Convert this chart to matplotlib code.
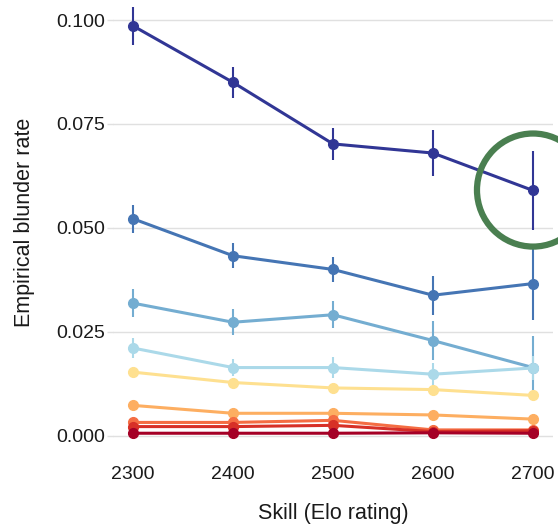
import matplotlib
matplotlib.use("Agg")
import matplotlib.pyplot as plt
from matplotlib.patches import Ellipse

plt.rcParams['font.family'] = ['Liberation Sans', 'DejaVu Sans']

# DATA
skill = [2300, 2400, 2500, 2600, 2700]

rates = [
    [0.0986, 0.0850, 0.0702, 0.0680, 0.0590],
    [0.0522, 0.0433, 0.0400, 0.0338, 0.0366],
    [0.0319, 0.0273, 0.0291, 0.0229, 0.0164],
    [0.0211, 0.0164, 0.0164, 0.0148, 0.0163],
    [0.0153, 0.0128, 0.0115, 0.0111, 0.0097],
    [0.0073, 0.0054, 0.0054, 0.0050, 0.0040],
    [0.0032, 0.0032, 0.0037, 0.0014, 0.0014],
    [0.0022, 0.0022, 0.0025, 0.0010, 0.0012],
    [0.0006, 0.0006, 0.0006, 0.0007, 0.0006],
]

errors = [
    [0.0045, 0.0038, 0.0038, 0.0056, 0.0095],
    [0.0034, 0.0030, 0.0030, 0.0047, 0.0087],
    [0.0034, 0.0031, 0.0033, 0.0047, 0.0075],
    [0.0024, 0.0020, 0.0025, 0.0027, 0.0030],
    [0.0012, 0.0010, 0.0010, 0.0012, 0.0012],
    [0.0006, 0.0006, 0.0006, 0.0007, 0.0009],
    [0.0004, 0.0004, 0.0004, 0.0004, 0.0005],
    [0.0003, 0.0003, 0.0003, 0.0003, 0.0004],
    [0.0002, 0.0002, 0.0002, 0.0002, 0.0002],
]

colors = ["#313695", "#4575b4", "#74add1", "#abd9e9", "#fee090",
          "#fdae61", "#f46d43", "#d73027", "#a50026"]

# highlighted point (circled)
circle_x = 2700
circle_y = 0.0591

# PLOT
fig = plt.figure(figsize=(5.58, 5.28), dpi=100)
ax = fig.add_axes([0.2025, 0.159, 0.7885, 0.8385])

for r, e, c in zip(rates, errors, colors):
    ax.errorbar(skill, r, yerr=e, color=c, lw=2.2, marker="o", ms=7,
                elinewidth=1.5, capsize=0)

ax.set_xlim(2280, 2720)
ax.set_ylim(-0.002, 0.1045)
ax.set_xticks(skill)
ax.set_yticks([0.0, 0.025, 0.05, 0.075, 0.1])
ax.set_yticklabels(["0.000", "0.025", "0.050", "0.075", "0.100"])
ax.grid(axis="y", color="#e0e0e0", lw=1)
ax.set_axisbelow(True)
for s in ax.spines.values():
    s.set_visible(False)
ax.tick_params(axis="x", length=0, pad=15.5, labelsize=14, labelcolor="#1a1a1a")
ax.tick_params(axis="y", length=4, width=1, color="#e0e0e0", pad=2,
               labelsize=14, labelcolor="#1a1a1a")
ax.set_xlabel("Skill (Elo rating)", fontsize=15.5, color="#1a1a1a", va="center")
ax.set_ylabel("Empirical blunder rate", fontsize=15.5, color="#1a1a1a", va="center")
ax.xaxis.set_label_coords(0.5, -0.156)
ax.yaxis.set_label_coords(-0.202, 0.5)

# green circle highlight (about 112 px across)
ax.add_patch(Ellipse((circle_x, circle_y), 112, 0.0272, fill=False,
                     ec="#4a7f50", lw=4.5, clip_on=False, zorder=5))

fig.savefig("out.png", dpi=100)
